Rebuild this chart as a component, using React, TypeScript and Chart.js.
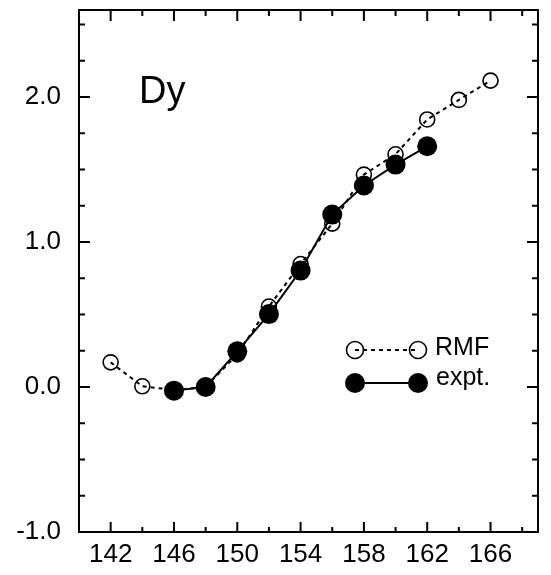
import React, { useEffect, useRef } from "react";
import { Chart, registerables } from "chart.js";

Chart.register(...registerables);

// ---- data ----
const rmfN = [142, 144, 146, 148, 150, 152, 154, 156, 158, 160, 162, 164, 166];
const rmfValues = [0.17, 0.005, -0.02, 0.0, 0.225, 0.555, 0.848, 1.127, 1.465, 1.605, 1.845, 1.98, 2.113];
const exptN = [146, 148, 150, 152, 154, 156, 158, 160, 162];
const exptValues = [-0.025, 0.0, 0.246, 0.503, 0.803, 1.189, 1.39, 1.534, 1.66];
const xTickValues = [142, 146, 150, 154, 158, 162, 166];
const yTickValues = [-1, 0, 1, 2];
const elementLabel = "Dy";
const legendLabels = ["RMF", "expt."];

const FONT = "'Liberation Sans', Arial, Helvetica, sans-serif";

const framePlugin = {
  id: "frame",
  afterDraw(chart: any) {
    const { ctx, chartArea } = chart;
    const { left, right, top, bottom } = chartArea;
    const xs = chart.scales.x;
    const ys = chart.scales.y;
    ctx.save();
    ctx.strokeStyle = "#000";
    ctx.lineWidth = 2;
    ctx.setLineDash([]);
    ctx.strokeRect(left, top, right - left, bottom - top);

    ctx.beginPath();
    // x ticks: major every 4 from 142, minor every 2
    for (let v = xs.min; v <= xs.max + 1e-9; v += 1) {
      const isMajor = xTickValues.includes(v);
      const isMinor = !isMajor && (v - 142) % 2 === 0;
      if (!isMajor && !isMinor) continue;
      const px = xs.getPixelForValue(v);
      const lb = isMajor ? 10 : 5;
      const lt = isMajor ? 11 : 6;
      ctx.moveTo(px, bottom);
      ctx.lineTo(px, bottom - lb);
      ctx.moveTo(px, top);
      ctx.lineTo(px, top + lt);
    }
    // y ticks: major every 1, minor every 0.25
    for (let i = 0; ; i++) {
      const v = ys.min + i * 0.25;
      if (v > ys.max + 1e-9) break;
      const isMajor = Math.abs(v - Math.round(v)) < 1e-9;
      const px = ys.getPixelForValue(v);
      const l = isMajor ? 11 : 6;
      ctx.moveTo(left, px);
      ctx.lineTo(left + l, px);
      ctx.moveTo(right, px);
      ctx.lineTo(right - l, px);
    }
    ctx.stroke();

    // element label
    ctx.fillStyle = "#000";
    ctx.font = `38px ${FONT}`;
    ctx.textAlign = "left";
    ctx.textBaseline = "alphabetic";
    ctx.fillText(elementLabel, 139, 103);

    // legend
    const x1 = 355;
    const x2 = 418;
    // RMF row
    const y1 = 350;
    ctx.lineWidth = 2;
    ctx.setLineDash([4, 4]);
    ctx.beginPath();
    ctx.moveTo(x1, y1);
    ctx.lineTo(x2, y1);
    ctx.stroke();
    ctx.setLineDash([]);
    ctx.lineWidth = 1.6;
    for (const cx of [x1, x2]) {
      ctx.beginPath();
      ctx.arc(cx, y1, 8.5, 0, Math.PI * 2);
      ctx.stroke();
    }
    // expt row
    const y2 = 383;
    ctx.lineWidth = 2;
    ctx.beginPath();
    ctx.moveTo(x1, y2);
    ctx.lineTo(x2, y2);
    ctx.stroke();
    for (const cx of [x1, x2]) {
      ctx.beginPath();
      ctx.arc(cx, y2, 10, 0, Math.PI * 2);
      ctx.fill();
    }
    ctx.font = `25px ${FONT}`;
    ctx.fillText(legendLabels[0], 435, 355);
    ctx.fillText(legendLabels[1], 436, 385);
    ctx.restore();
  },
};

export default function App() {
  const canvasRef = useRef<HTMLCanvasElement | null>(null);

  useEffect(() => {
    if (!canvasRef.current) return;
    const chart = new Chart(canvasRef.current, {
      type: "scatter",
      data: {
        datasets: [
          {
            label: legendLabels[1],
            data: exptN.map((n, i) => ({ x: n, y: exptValues[i] })),
            showLine: true,
            borderColor: "#000",
            borderWidth: 2,
            backgroundColor: "#000",
            pointRadius: 10,
            pointBorderWidth: 0,
            pointBackgroundColor: "#000",
            order: 1,
          },
          {
            label: legendLabels[0],
            data: rmfN.map((n, i) => ({ x: n, y: rmfValues[i] })),
            showLine: true,
            borderColor: "#000",
            borderWidth: 2,
            borderDash: [4, 4],
            pointRadius: 7.5,
            pointBorderWidth: 1.6,
            pointBorderColor: "#000",
            pointBackgroundColor: "rgba(0,0,0,0)",
            order: 2,
          },
        ],
      },
      options: {
        animation: false,
        responsive: true,
        maintainAspectRatio: false,
        layout: { padding: { top: 8, right: 13, left: 0, bottom: 0 } },
        plugins: {
          legend: { display: false },
          tooltip: { enabled: false },
        },
        scales: {
          x: {
            type: "linear",
            min: 140,
            max: 169,
            grid: { display: false, drawTicks: false },
            border: { display: false },
            afterBuildTicks: (scale: any) => {
              scale.ticks = xTickValues.map((v) => ({ value: v }));
            },
            afterFit: (scale: any) => {
              scale.height = 43;
              scale.paddingLeft = 0;
              scale.paddingRight = 0;
              scale.paddingTop = 0;
              scale.paddingBottom = 0;
            },
            ticks: {
              autoSkip: false,
              maxRotation: 0,
              padding: 7,
              color: "#000",
              font: { family: FONT, size: 26 },
              callback: (v: any) => String(v),
            },
          },
          y: {
            type: "linear",
            min: -1,
            max: 2.6,
            grid: { display: false, drawTicks: false },
            border: { display: false },
            afterBuildTicks: (scale: any) => {
              scale.ticks = yTickValues.map((v) => ({ value: v }));
            },
            afterFit: (scale: any) => {
              scale.width = 79;
              scale.paddingLeft = 0;
              scale.paddingRight = 0;
              scale.paddingTop = 0;
              scale.paddingBottom = 0;
            },
            ticks: {
              padding: 18,
              color: "#000",
              font: { family: FONT, size: 26 },
              callback: (v: any) => Number(v).toFixed(1),
            },
          },
        },
      },
      plugins: [framePlugin],
    });
    return () => chart.destroy();
  }, []);

  return (
    <div style={{ position: "fixed", left: 0, top: 0, width: 551, height: 575, background: "#fff" }}>
      <canvas ref={canvasRef} />
    </div>
  );
}
